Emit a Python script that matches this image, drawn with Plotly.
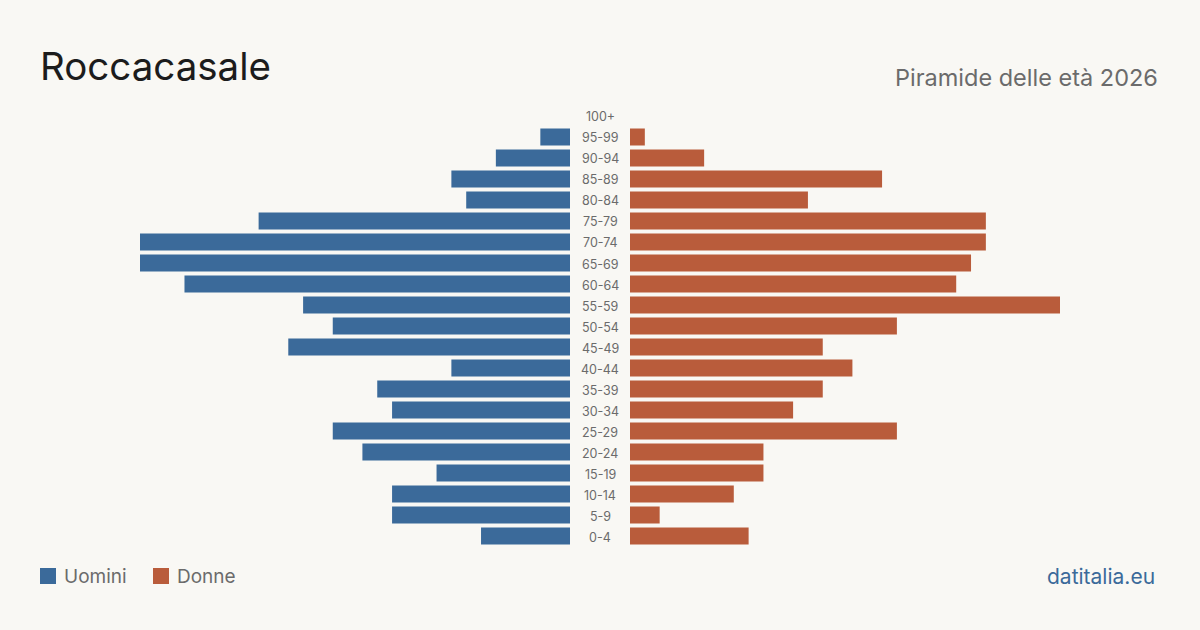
import plotly.graph_objects as go

W, H = 1200, 630

age_groups = ["0-4", "5-9", "10-14", "15-19", "20-24", "25-29", "30-34", "35-39",
              "40-44", "45-49", "50-54", "55-59", "60-64", "65-69", "70-74",
              "75-79", "80-84", "85-89", "90-94", "95-99", "100+"]
males = [6, 12, 12, 9, 14, 16, 12, 13, 8, 19, 16, 18, 26, 29, 29, 21, 7, 8, 5, 2, 0]
females = [8, 2, 7, 9, 9, 18, 11, 13, 15, 13, 18, 29, 22, 23, 24, 24, 12, 17, 5, 1, 0]

title = "Roccacasale"
subtitle = "Piramide delle età 2026"
source = "datitalia.eu"
legend_labels = ["Uomini", "Donne"]

BLUE = "#3b6a9a"
ORANGE = "#b95c3b"
BG = "#f9f8f4"
FONT = "Inter, 'Noto Sans', sans-serif"

xmax = max(max(males), max(females))

fig = go.Figure()
fig.add_trace(go.Bar(y=age_groups, x=males, orientation="h", marker=dict(color=BLUE, line=dict(width=0)),
                     xaxis="x", yaxis="y", name=legend_labels[0], showlegend=False))
fig.add_trace(go.Bar(y=age_groups, x=females, orientation="h", marker=dict(color=ORANGE, line=dict(width=0)),
                     xaxis="x2", yaxis="y2", name=legend_labels[1], showlegend=False))

ydom = [1 - 546.5 / H, 1 - 105.5 / H]
common_y = dict(type="category", categoryorder="array", categoryarray=age_groups,
                range=[-0.5, len(age_groups) - 0.5], domain=ydom,
                showgrid=False, zeroline=False, showticklabels=False, showline=False, ticks="")
fig.update_layout(
    width=W, height=H,
    margin=dict(l=0, r=0, t=0, b=0),
    paper_bgcolor=BG, plot_bgcolor=BG,
    bargap=0.19,
    xaxis=dict(domain=[140 / W, 570 / W], range=[xmax, 0], showgrid=False, zeroline=False,
               showticklabels=False, showline=False, ticks="", fixedrange=True),
    xaxis2=dict(domain=[630 / W, 1060 / W], range=[0, xmax], showgrid=False, zeroline=False,
                showticklabels=False, showline=False, ticks="", anchor="y2", fixedrange=True),
    yaxis=dict(**common_y, anchor="x"),
    yaxis2=dict(**common_y, anchor="x2"),
    font=dict(family=FONT),
)

annotations = []
for ag in age_groups:
    annotations.append(dict(x=0.5, xref="paper", y=ag, yref="y", text=ag, showarrow=False,
                            xanchor="center", yanchor="middle", yshift=-1,
                            font=dict(size=12.5, color="#6b6b6b", family=FONT)))

annotations.append(dict(x=38 / W, y=1 - 66 / H, xref="paper", yref="paper", text=title,
                        showarrow=False, xanchor="left", yanchor="middle",
                        font=dict(size=38.5, color="#1c1c1c", family=FONT)))
annotations.append(dict(x=1160 / W, y=1 - 77 / H, xref="paper", yref="paper", text=subtitle,
                        showarrow=False, xanchor="right", yanchor="middle",
                        font=dict(size=23.5, color="#6b6b6b", family=FONT)))
annotations.append(dict(x=1157 / W, y=1 - 576 / H, xref="paper", yref="paper", text=source,
                        showarrow=False, xanchor="right", yanchor="middle",
                        font=dict(size=21, color=BLUE, family=FONT)))

# legend
shapes = []
leg = [(40, legend_labels[0], BLUE), (153, legend_labels[1], ORANGE)]
for x0, lab, col in leg:
    shapes.append(dict(type="rect", xref="paper", yref="paper",
                       x0=x0 / W, x1=(x0 + 16) / W, y0=1 - 584 / H, y1=1 - 568 / H,
                       fillcolor=col, line=dict(width=0)))
    annotations.append(dict(x=(x0 + 22) / W, y=1 - 576 / H, xref="paper", yref="paper", text=lab,
                            showarrow=False, xanchor="left", yanchor="middle",
                            font=dict(size=19, color="#6b6b6b", family=FONT)))

fig.update_layout(annotations=annotations, shapes=shapes)

fig.write_html("out.html", config={"displayModeBar": False})
